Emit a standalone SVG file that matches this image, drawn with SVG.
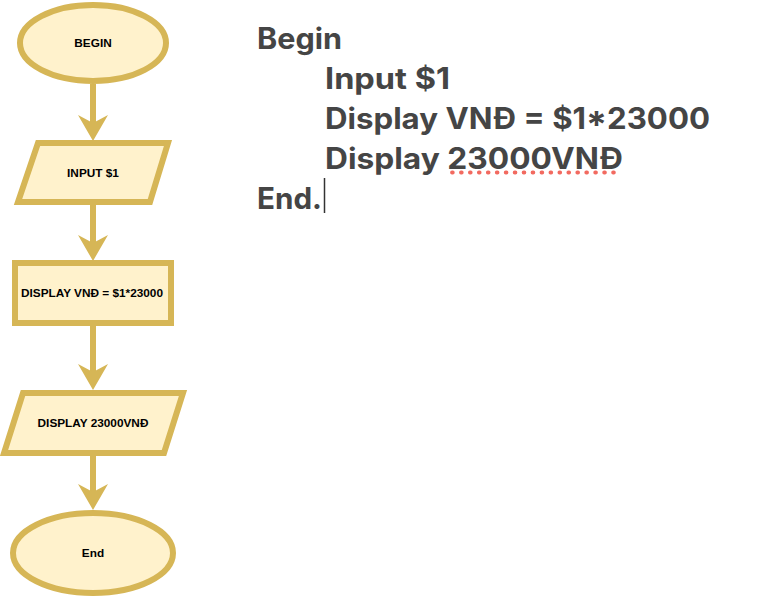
<svg xmlns="http://www.w3.org/2000/svg" width="759" height="598" viewBox="0 0 759 598">
<style>
.shape{fill:#fff2cc;stroke:#d6b656;stroke-width:6}
.lbl{font-family:"Liberation Sans",Arial,sans-serif;font-weight:bold;font-size:11.8px;fill:#000;text-anchor:middle;dominant-baseline:central}
.edge{stroke:#d6b656;stroke-width:6;fill:none}
.head{fill:#d6b656;stroke:none}
.code{font-family:Inter,"Liberation Sans",sans-serif;font-weight:bold;font-size:29.5px;fill:#454545}
</style>
<defs>
<path id="ah" class="head" d="M -15 -26 L 0 0 L 15 -26 L 0 -18 Z"/>
</defs>
<rect width="759" height="598" fill="#fff"/>
<g id="connectors">
<line class="edge" x1="93" y1="84" x2="93" y2="124"/>
<use href="#ah" x="93" y="141"/>
<line class="edge" x1="93" y1="205" x2="93" y2="244"/>
<use href="#ah" x="93" y="261"/>
<line class="edge" x1="93" y1="326" x2="93" y2="373"/>
<use href="#ah" x="93" y="390"/>
<line class="edge" x1="93" y1="456" x2="93" y2="493"/>
<use href="#ah" x="93" y="510"/>
</g>
<g id="begin">
<ellipse class="shape" cx="93" cy="43" rx="73" ry="38"/>
<text class="lbl" x="93" y="43">BEGIN</text>
</g>
<g id="input">
<polygon class="shape" points="38,143 168,143 150,202 18,202"/>
<text class="lbl" x="93" y="173">INPUT $1</text>
</g>
<g id="compute">
<rect class="shape" x="15" y="263" width="156" height="60"/>
<text class="lbl" x="92" y="293">DISPLAY VNĐ = $1*23000</text>
</g>
<g id="display">
<polygon class="shape" points="23,393 183,393 164,453 4,453"/>
<text class="lbl" x="93" y="423">DISPLAY 23000VNĐ</text>
</g>
<g id="end">
<ellipse class="shape" cx="93" cy="553" rx="80" ry="40"/>
<text class="lbl" x="93" y="553">End</text>
</g>
<g id="pseudocode">
<text class="code" x="257" y="49" textLength="85" lengthAdjust="spacingAndGlyphs">Begin</text>
<text class="code" x="325" y="89" textLength="125" lengthAdjust="spacingAndGlyphs">Input $1</text>
<text class="code" x="325" y="129" textLength="385" lengthAdjust="spacingAndGlyphs">Display VNĐ = $1*23000</text>
<text class="code" x="325" y="169" textLength="298" lengthAdjust="spacingAndGlyphs">Display 23000VNĐ</text>
<text class="code" x="257" y="209" textLength="65" lengthAdjust="spacingAndGlyphs">End.</text>
<line x1="452" y1="172.5" x2="622" y2="172.5" stroke="#f26a60" stroke-width="3.8" stroke-linecap="round" stroke-dasharray="0.8 8.15"/>
<line x1="324.5" y1="178" x2="324.5" y2="213" stroke="#333" stroke-width="1.5"/>
</g>
</svg>
